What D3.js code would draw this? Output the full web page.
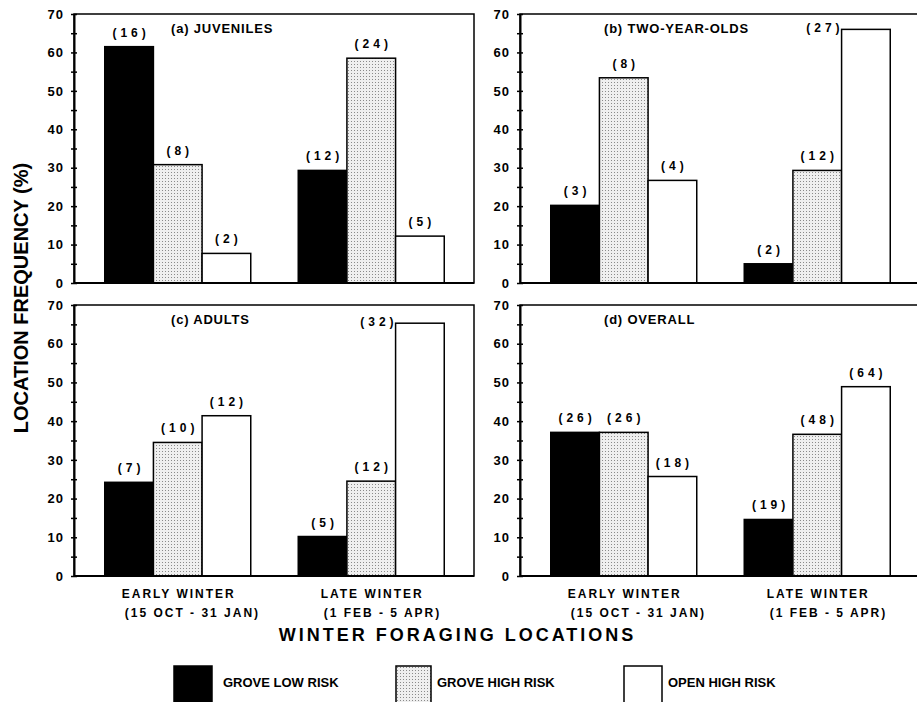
<!DOCTYPE html>
<html><head><meta charset="utf-8">
<script src="https://cdn.jsdelivr.net/npm/d3@7"></script>
<style>
body{margin:0;background:#fff}
text{font-family:"Liberation Sans",Arial,Helvetica,sans-serif;font-weight:bold;fill:#000}
</style>
</head><body><svg id="c" width="917" height="702"></svg>
<script>
// ---- data ----
const panelTitles = ["(a) JUVENILES", "(b) TWO-YEAR-OLDS", "(c) ADULTS", "(d) OVERALL"];
const periods = ["EARLY WINTER", "LATE WINTER"];
const periodDates = ["(15 OCT - 31 JAN)", "(1 FEB - 5 APR)"];
const series = ["GROVE LOW RISK", "GROVE HIGH RISK", "OPEN HIGH RISK"];
const yTicks = [0, 10, 20, 30, 40, 50, 60, 70];
// percentages [early, late] x [low, high, open]
const juvenilesPct = [[61.5, 30.8, 7.7], [29.3, 58.5, 12.2]];
const juvenilesN   = [[16, 8, 2], [12, 24, 5]];
const twoYearPct   = [[20.2, 53.4, 26.7], [5.0, 29.3, 66.0]];
const twoYearN     = [[3, 8, 4], [2, 12, 27]];
const adultsPct    = [[24.2, 34.5, 41.4], [10.2, 24.5, 65.3]];
const adultsN      = [[7, 10, 12], [5, 12, 32]];
const overallPct   = [[37.1, 37.1, 25.7], [14.6, 36.6, 48.9]];
const overallN     = [[26, 26, 18], [19, 48, 64]];
const panelPct = [juvenilesPct, twoYearPct, adultsPct, overallPct];
const panelN = [juvenilesN, twoYearN, adultsN, overallN];

// ---- layout ----
const svg = d3.select("#c");
const defs = svg.append("defs");
const pat = defs.append("pattern").attr("id", "stip")
  .attr("width", 3).attr("height", 3).attr("patternUnits", "userSpaceOnUse");
pat.append("rect").attr("width", 3).attr("height", 3).attr("fill", "#efefef");
pat.append("rect").attr("x", 1).attr("y", 1).attr("width", 1).attr("height", 1).attr("fill", "#8a8a8a");
const fills = ["#000", "url(#stip)", "#fff"];

const colX = [74, 520];
const rowY = [[283, 14], [576, 305]];
const panelW = 400;
const titleDx = [97, 84];
const LS = 4;

panelTitles.forEach((title, i) => {
  const col = i % 2, row = Math.floor(i / 2);
  const g = svg.append("g").attr("transform", `translate(${colX[col]},0)`);
  const y = d3.scaleLinear().domain([0, 70]).range(rowY[row]);
  const x0 = d3.scaleBand().domain(periods).range([7, 394]);
  const x1 = d3.scaleBand().domain(series).range([0, 146]);
  const off = (x0.bandwidth() - 146) / 2;

  // frame
  g.append("rect").attr("x", 0).attr("y", y(70)).attr("width", panelW)
    .attr("height", y(0) - y(70)).attr("fill", "none").attr("stroke", "#000").attr("stroke-width", 1.5);

  // bars
  periods.forEach((p, pi) => {
    series.forEach((s, si) => {
      const v = panelPct[i][pi][si];
      const bx = x0(p) + off + x1(s);
      g.append("rect").attr("x", bx).attr("y", y(v)).attr("width", x1.bandwidth())
        .attr("height", y(0) - y(v)).attr("fill", fills[si])
        .attr("stroke", "#000").attr("stroke-width", 1.5);
      const lab = "(" + panelN[i][pi][si] + ")";
      const t = g.append("text").text(lab).attr("font-size", 12).attr("letter-spacing", LS);
      if (v > 64) {
        t.attr("x", bx - 2 + LS).attr("y", y(v) + 3).attr("text-anchor", "end");
      } else {
        t.attr("x", bx + x1.bandwidth() / 2 + LS / 2).attr("y", y(v) - 10).attr("text-anchor", "middle");
      }
    });
  });

  // y axis
  const ax = g.append("g").call(d3.axisLeft(y).tickValues(d3.range(0, 71, 5))
    .tickSize(3).tickSizeOuter(0).tickPadding(7)
    .tickFormat(d => yTicks.includes(d) ? d : ""));
  ax.select(".domain").attr("stroke-width", 2);
  ax.selectAll(".tick line").attr("x1", -3).attr("x2", 3).attr("stroke-width", 1.5);
  ax.selectAll(".tick text").attr("font-size", 13).attr("letter-spacing", 1)
    .style("font-family", '"Liberation Sans",Arial,sans-serif').style("font-weight", "bold");
  ax.attr("font-family", null).attr("font-size", null);

  // bottom axis line
  g.append("line").attr("x1", 0).attr("x2", panelW).attr("y1", y(0)).attr("y2", y(0))
    .attr("stroke", "#000").attr("stroke-width", 2);

  // title
  g.append("text").text(title).attr("x", titleDx[col]).attr("y", y(70) + 18.5)
    .attr("font-size", 13).attr("letter-spacing", 0.8);

  // category labels
  if (row === 1) {
    periods.forEach((p, pi) => {
      const cx = x0(p) + x0.bandwidth() / 2;
      const t1 = g.append("text").text(p).attr("x", cx + 1).attr("y", y(0) + 22)
        .attr("text-anchor", "middle").attr("font-size", 12).attr("letter-spacing", 2);
      const w1 = t1.node().getComputedTextLength();
      g.append("text").text(periodDates[pi]).attr("x", cx + 1 - w1 / 2 + 3).attr("y", y(0) + 41)
        .attr("font-size", 12).attr("letter-spacing", 2);
    });
  }
});

// axis titles
svg.append("text").text("LOCATION FREQUENCY (%)")
  .attr("transform", "translate(28,298) rotate(-90)").attr("text-anchor", "middle").attr("font-size", 20);
svg.append("text").text("WINTER FORAGING LOCATIONS")
  .attr("x", 457.5).attr("y", 641).attr("text-anchor", "middle").attr("font-size", 18).attr("letter-spacing", 3);

// legend
const legBoxX = [174, 396, 624];
const legBoxW = [38, 35, 38];
const legTextX = [223, 437, 668];
series.forEach((s, si) => {
  svg.append("rect").attr("x", legBoxX[si]).attr("y", 666).attr("width", legBoxW[si]).attr("height", 50)
    .attr("fill", fills[si]).attr("stroke", "#000").attr("stroke-width", 1.5);
  svg.append("text").text(s).attr("x", legTextX[si]).attr("y", 687).attr("font-size", 13);
});
</script>
</body></html>
